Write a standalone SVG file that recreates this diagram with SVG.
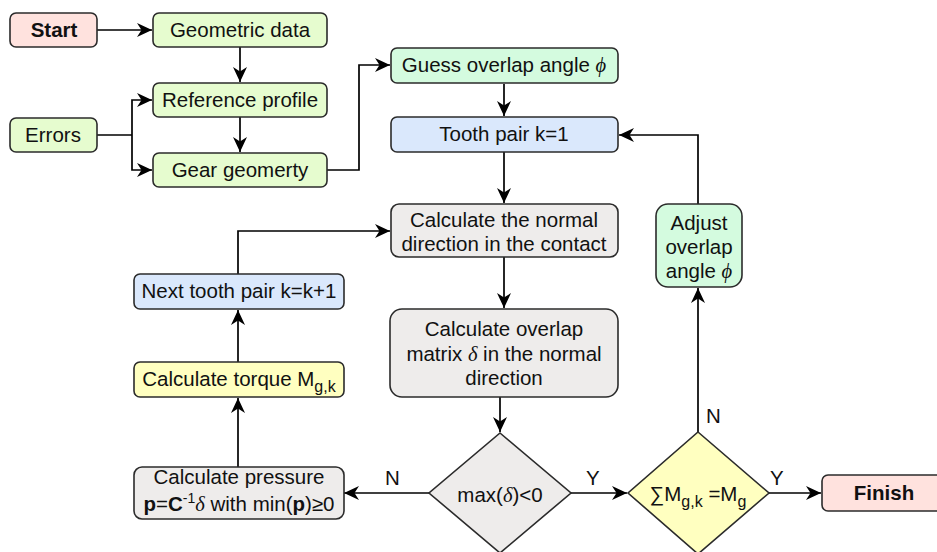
<svg xmlns="http://www.w3.org/2000/svg" width="937" height="552" viewBox="0 0 937 552">
<defs>
<style>
.b{stroke:#2b2b2b;stroke-width:1.6}
.pink{fill:#ffe2de}
.green{fill:#e6fccf}
.mint{fill:#d4fbdf}
.blue{fill:#dae8fc}
.gray{fill:#eeeceb}
.yel{fill:#ffffc0}
text{font-family:"Liberation Sans",Arial,sans-serif;font-size:20.5px;fill:#111;text-anchor:middle}
.bold{font-weight:bold}
.gk{font-family:"Liberation Serif","Times New Roman",serif;font-style:italic}
.c{fill:none;stroke:#000;stroke-width:1.7;marker-end:url(#ah)}
.ln{fill:none;stroke:#000;stroke-width:1.7}
.lbl{text-anchor:start}
</style>
<marker id="ah" markerUnits="userSpaceOnUse" markerWidth="16" markerHeight="16" viewBox="0 0 16 16" refX="15" refY="8" orient="auto">
<path d="M0,1 L15,8 L0,15 L4.5,8 z" fill="#000"/>
</marker>
</defs>
<rect width="937" height="552" fill="#fff"/>

<g id="connectors">
<path class="c" d="M97,30 H152"/>
<path class="c" d="M240,47 V82"/>
<path class="c" d="M240,117 V152"/>
<path class="ln" d="M97,135 H132"/>
<path class="c" d="M132,135 V100 H152"/>
<path class="c" d="M132,135 V170 H152"/>
<path class="c" d="M327,170 H359 V65 H390"/>
<path class="c" d="M504,84 V116"/>
<path class="c" d="M504,152 V203"/>
<path class="c" d="M504,257 V308"/>
<path class="c" d="M500,397 V432"/>
<path class="c" d="M429,493 H344"/>
<path class="c" d="M571,493 H627"/>
<path class="c" d="M698,432 V288"/>
<path class="c" d="M769,493 H821"/>
<path class="c" d="M698,204 V135 H619"/>
<path class="c" d="M238,467 V398"/>
<path class="c" d="M238,362 V310"/>
<path class="c" d="M238,274 V231 H390"/>
<text class="lbl" x="385" y="485">N</text>
<text class="lbl" x="586" y="485">Y</text>
<text class="lbl" x="706" y="423">N</text>
<text class="lbl" x="770" y="485">Y</text>
</g>

<g id="start"><rect class="b pink" x="10" y="13" width="87" height="34" rx="6"/><text class="bold" x="54" y="37">Start</text></g>
<g id="geometric-data"><rect class="b green" x="153" y="13" width="174" height="34" rx="6"/><text x="240" y="37">Geometric data</text></g>
<g id="reference-profile"><rect class="b green" x="153" y="83" width="174" height="34" rx="6"/><text x="240" y="107">Reference profile</text></g>
<g id="errors"><rect class="b green" x="10" y="118" width="87" height="34" rx="6"/><text x="53" y="142">Errors</text></g>
<g id="gear-geometry"><rect class="b green" x="153" y="153" width="174" height="34" rx="6"/><text x="240" y="177">Gear geomerty</text></g>
<g id="guess-angle"><rect class="b mint" x="391" y="48" width="227" height="35" rx="6"/><text x="504" y="72">Guess overlap angle <tspan class="gk">ϕ</tspan></text></g>
<g id="tooth-pair-1"><rect class="b blue" x="391" y="117" width="227" height="35" rx="6"/><text x="504" y="141">Tooth pair k=1</text></g>
<g id="calc-normal"><rect class="b gray" x="391" y="204" width="227" height="53" rx="8"/><text x="504" y="227">Calculate the normal</text><text x="504" y="251">direction in the contact</text></g>
<g id="calc-overlap"><rect class="b gray" x="390" y="309" width="228" height="88" rx="12"/><text x="504" y="336">Calculate overlap</text><text x="504" y="361">matrix <tspan class="gk">δ</tspan> in the normal</text><text x="504" y="385">direction</text></g>
<g id="max-decision"><path class="b gray" d="M500,433 L571,493 L500,553 L429,493 Z"/><text x="500" y="502">max(<tspan class="gk">δ</tspan>)&lt;0</text></g>
<g id="sum-decision"><path class="b yel" d="M698,432 L769,493 L698,554 L628,493 Z"/><text x="698" y="501">∑M<tspan font-size="16" dy="6">g,k</tspan><tspan dy="-6"> =M</tspan><tspan font-size="16" dy="6">g</tspan></text></g>
<g id="finish"><rect class="b pink" x="822" y="475" width="126" height="36" rx="6"/><text class="bold" x="884" y="500">Finish</text></g>
<g id="adjust-angle"><rect class="b mint" x="656" y="204" width="86" height="83" rx="12"/><text x="699" y="230">Adjust</text><text x="699" y="254">overlap</text><text x="699" y="278">angle <tspan class="gk">ϕ</tspan></text></g>
<g id="next-tooth"><rect class="b blue" x="134" y="274" width="210" height="35" rx="6"/><text x="239" y="298">Next tooth pair k=k+1</text></g>
<g id="calc-torque"><rect class="b yel" x="134" y="362" width="210" height="35" rx="6"/><text x="239" y="386">Calculate torque M<tspan font-size="16" dy="6">g,k</tspan></text></g>
<g id="calc-pressure"><rect class="b gray" x="134" y="467" width="210" height="52" rx="8"/><text x="239" y="484">Calculate pressure</text><text x="239" y="511"><tspan class="bold">p</tspan>=<tspan class="bold">C</tspan><tspan font-size="14" dy="-8">-1</tspan><tspan class="gk" dy="8">δ</tspan> with min(<tspan class="bold">p</tspan>)≥0</text></g>
</svg>
